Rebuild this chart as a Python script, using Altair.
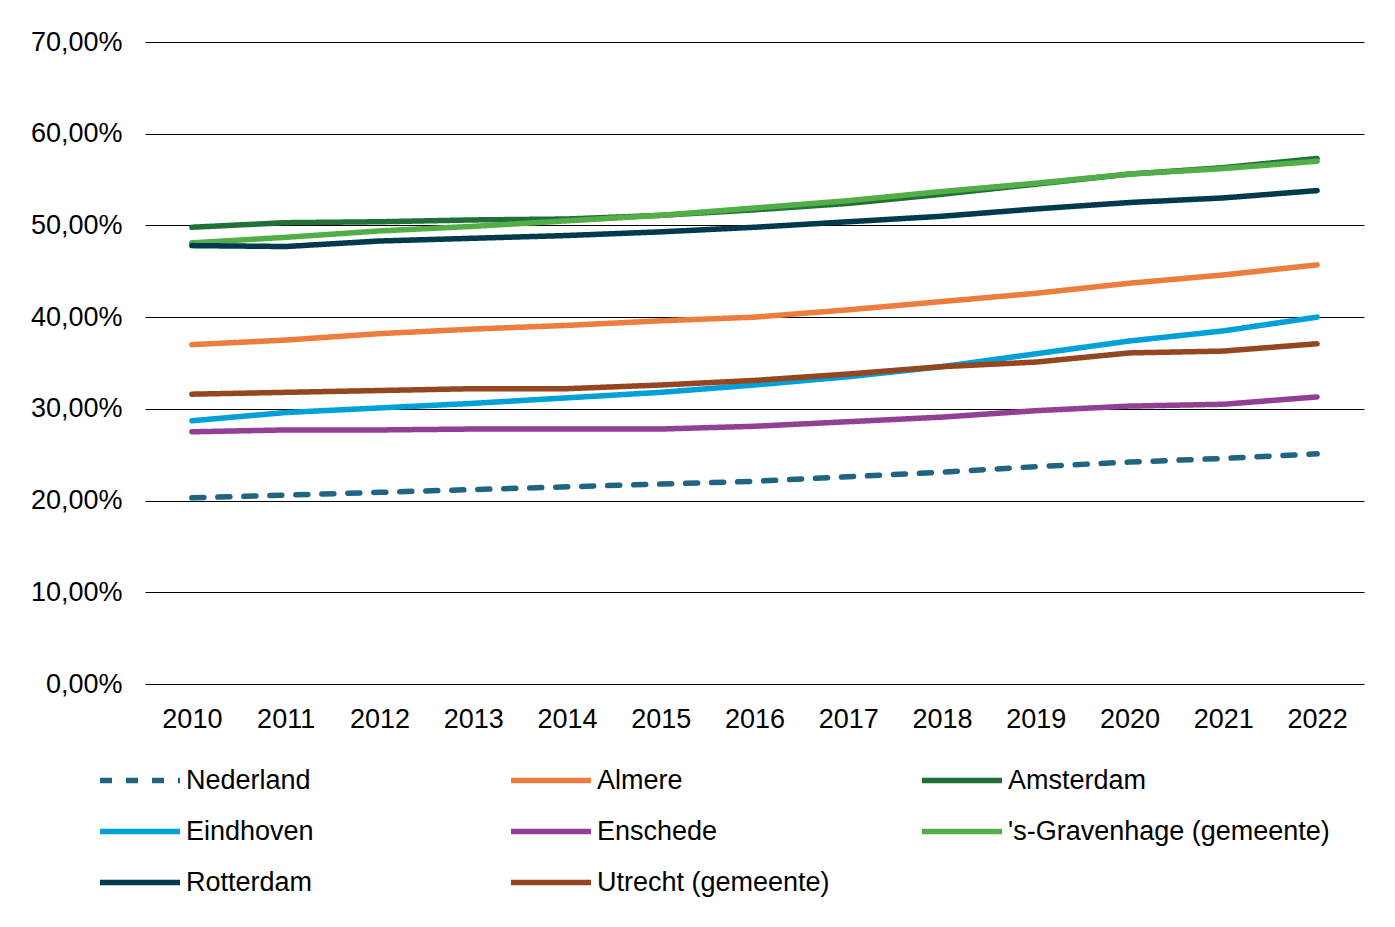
import altair as alt
import pandas as pd

years = [str(y) for y in range(2010, 2023)]

series_names = ["Nederland", "Almere", "Amsterdam", "Eindhoven", "Enschede",
                "'s-Gravenhage (gemeente)", "Rotterdam", "Utrecht (gemeente)"]

nederland = [20.3, 20.6, 20.9, 21.2, 21.5, 21.8, 22.1, 22.6, 23.1, 23.7, 24.2, 24.6, 25.1]
almere = [37.0, 37.5, 38.2, 38.7, 39.1, 39.6, 40.0, 40.8, 41.7, 42.6, 43.7, 44.6, 45.7]
amsterdam = [49.8, 50.3, 50.4, 50.6, 50.7, 51.1, 51.7, 52.4, 53.4, 54.5, 55.6, 56.3, 57.3]
eindhoven = [28.7, 29.6, 30.1, 30.6, 31.2, 31.8, 32.6, 33.5, 34.6, 36.0, 37.4, 38.5, 40.0]
enschede = [27.5, 27.7, 27.7, 27.8, 27.8, 27.8, 28.1, 28.6, 29.1, 29.8, 30.3, 30.5, 31.3]
gravenhage = [48.1, 48.7, 49.4, 49.9, 50.5, 51.1, 51.9, 52.7, 53.7, 54.6, 55.6, 56.2, 57.0]
rotterdam = [47.8, 47.7, 48.3, 48.6, 48.9, 49.3, 49.8, 50.4, 51.0, 51.8, 52.5, 53.0, 53.8]
utrecht = [31.6, 31.8, 32.0, 32.2, 32.2, 32.6, 33.1, 33.8, 34.6, 35.1, 36.1, 36.3, 37.1]

all_values = [nederland, almere, amsterdam, eindhoven, enschede, gravenhage, rotterdam, utrecht]

colors = ["#1F6582", "#ED7D3F", "#217038", "#00A0D8", "#923F95", "#52AE47", "#003A4C", "#944621"]
dashes = [[12, 14], [1, 0], [1, 0], [1, 0], [1, 0], [1, 0], [1, 0], [1, 0]]

rows = []
for order, (name, vals) in enumerate(zip(series_names, all_values)):
    for y, v in zip(years, vals):
        rows.append({"jaar": y, "reeks": name, "waarde": v / 100.0, "volgorde": order})
df = pd.DataFrame(rows)

FONT = "Liberation Sans"

legend_opts = dict(
    title=None,
    orient="none",
    legendX=-48,
    legendY=713,
    columns=3,
    gridAlign="all",
    columnPadding=-10,
    rowPadding=0,
    clipHeight=51,
    symbolType="stroke",
    symbolSize=6400,
    symbolStrokeWidth=5.5,
    labelFontSize=27,
    labelFont=FONT,
    labelColor="#000000",
    labelOffset=3,
    labelLimit=500,
    direction="horizontal",
)

chart = alt.Chart(df).mark_line(strokeWidth=5.5, strokeCap="round", strokeJoin="round").encode(
    x=alt.X("jaar:O", title=None,
            scale=alt.Scale(type="point", padding=0.5),
            axis=alt.Axis(labelAngle=0, ticks=False, domain=False, grid=False,
                          labelFontSize=27, labelFont=FONT, labelColor="#000000",
                          labelPadding=22)),
    y=alt.Y("waarde:Q", title=None,
            scale=alt.Scale(domain=[0, 0.7], nice=False),
            axis=alt.Axis(values=[0, 0.1, 0.2, 0.3, 0.4, 0.5, 0.6, 0.7],
                          labelExpr="replace(format(datum.value, '.2%'), '.', ',')",
                          ticks=False, domain=False, grid=True,
                          gridColor="#000000", gridWidth=1.2, gridOpacity=1,
                          labelFontSize=27, labelFont=FONT, labelColor="#000000",
                          labelPadding=23)),
    color=alt.Color("reeks:N", title=None,
                    scale=alt.Scale(domain=series_names, range=colors),
                    sort=series_names,
                    legend=alt.Legend(**legend_opts)),
    strokeDash=alt.StrokeDash("reeks:N", title=None,
                              scale=alt.Scale(domain=series_names, range=dashes),
                              sort=series_names,
                              legend=alt.Legend(**legend_opts)),
    order=alt.Order("volgorde:Q"),
).properties(
    width=1219,
    height=642,
    autosize=alt.AutoSizeParams(type="none"),
    padding={"left": 137, "top": 34, "right": 20, "bottom": 234},
    background="#ffffff",
).configure_view(
    stroke=None
)

chart.save("out.html", embed_options={"renderer": "svg", "actions": False})
